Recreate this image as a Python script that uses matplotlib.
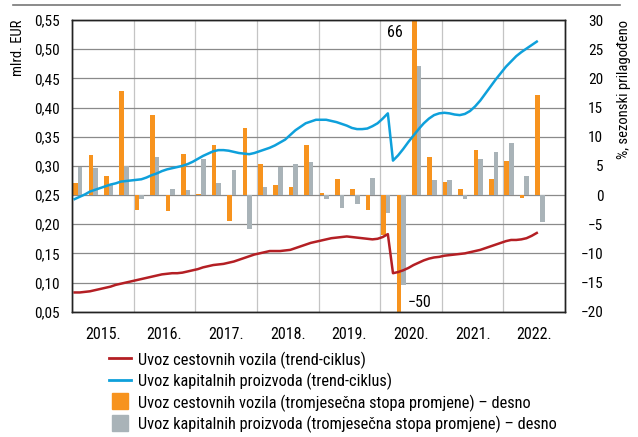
import matplotlib.pyplot as plt
from matplotlib.lines import Line2D
from matplotlib.ticker import FuncFormatter, MultipleLocator

plt.rcParams['font.family'] = ['Roboto Condensed', 'DejaVu Sans']
plt.rcParams['font.size'] = 10.5

# monthly trend-cycle series, Jan 2015 - Jul 2022 (mlrd. EUR)
vozila_trend = [
    0.083, 0.083, 0.084, 0.085, 0.087, 0.089, 0.091, 0.093, 0.096, 0.098, 0.100, 0.102,
    0.104, 0.106, 0.108, 0.110, 0.112, 0.114, 0.115, 0.116, 0.116, 0.117, 0.119, 0.121,
    0.123, 0.126, 0.128, 0.130, 0.131, 0.132, 0.134, 0.136, 0.139, 0.142, 0.145, 0.148,
    0.150, 0.152, 0.154, 0.154, 0.154, 0.155, 0.156, 0.159, 0.162, 0.165, 0.168, 0.170,
    0.172, 0.174, 0.176, 0.177, 0.178, 0.179, 0.178, 0.177, 0.176, 0.175, 0.174, 0.175,
    0.178, 0.183, 0.116, 0.118, 0.121, 0.125, 0.130, 0.134, 0.138, 0.141, 0.143, 0.144,
    0.146, 0.147, 0.148, 0.149, 0.150, 0.152, 0.154, 0.156, 0.159, 0.162, 0.165, 0.168,
    0.171, 0.173, 0.173, 0.174, 0.176, 0.180, 0.185,
]
kapital_trend = [
    0.243, 0.247, 0.251, 0.256, 0.259, 0.262, 0.265, 0.268, 0.270, 0.273, 0.274, 0.275,
    0.276, 0.277, 0.280, 0.284, 0.287, 0.291, 0.294, 0.296, 0.298, 0.300, 0.303, 0.307,
    0.312, 0.317, 0.321, 0.325, 0.327, 0.327, 0.326, 0.324, 0.322, 0.321, 0.320, 0.322,
    0.325, 0.328, 0.331, 0.335, 0.340, 0.345, 0.353, 0.361, 0.367, 0.373, 0.376, 0.379,
    0.379, 0.379, 0.377, 0.375, 0.372, 0.369, 0.365, 0.363, 0.363, 0.364, 0.368, 0.373,
    0.381, 0.390, 0.309, 0.318, 0.329, 0.341, 0.352, 0.363, 0.373, 0.381, 0.387, 0.390,
    0.391, 0.390, 0.388, 0.387, 0.389, 0.394, 0.402, 0.412, 0.424, 0.436, 0.448, 0.459,
    0.470, 0.479, 0.488, 0.495, 0.501, 0.507, 0.513,
]

# quarterly rates of change, 2015 Q1 - 2022 Q3 (%)
vozila_q = [2.0, 6.9, 3.2, 17.9, -2.6, 13.7, -2.7, 7.1, 0.1, 8.5, -4.4, 11.5,
            5.4, 1.7, 1.3, 8.6, 0.4, 2.8, 1.0, -2.6, -6.9, -50, 66, 6.5,
            2.3, 1.1, 7.7, 2.8, 5.9, -0.5, 17.1]
kapital_q = [4.8, 4.6, 1.7, 5.0, -0.7, 6.6, 1.1, 0.8, 6.1, 2.0, 4.3, -5.9,
             1.3, 4.8, 5.3, 5.6, -0.7, -2.2, -1.6, 2.9, -3.1, -15.5, 22.2, 2.6,
             2.5, -0.7, 6.1, 7.3, 8.9, 3.3, -4.7]

years = list(range(2015, 2023))
year_labels = [str(y) + '.' for y in years]

labels = [
    'Uvoz cestovnih vozila (trend-ciklus)',
    'Uvoz kapitalnih proizvoda (trend-ciklus)',
    'Uvoz cestovnih vozila (tromjesečna stopa promjene) – desno',
    'Uvoz kapitalnih proizvoda (tromjesečna stopa promjene) – desno',
]

RED = '#b41f24'
BLUE = '#0ea0db'
ORANGE = '#f7931e'
GREY = '#a9b3b8'

fig = plt.figure(figsize=(6.38, 4.37), dpi=100)
ax2 = fig.add_axes([0.1129, 0.2867, 0.7727, 0.6675])
ax = ax2.twinx()
ax2.yaxis.tick_right()
ax2.yaxis.set_label_position('right')
ax.yaxis.tick_left()
ax.yaxis.set_label_position('left')
ax.set_zorder(ax2.get_zorder() + 1)
ax.patch.set_visible(False)

# bars, right scale
qx = [2015 + 0.25 * i for i in range(len(vozila_q))]
ax2.bar([x + 0.055 for x in qx], vozila_q, width=0.075, color=ORANGE, zorder=2)
ax2.bar([x + 0.13 for x in qx], kapital_q, width=0.075, color=GREY, zorder=2)
ax2.set_ylim(-20, 30)
ax2.yaxis.set_major_locator(MultipleLocator(5))
ax2.set_xlim(2015, 2023)
ax2.grid(axis='y', color='#8a8a8a', lw=0.9, zorder=0)
ax2.grid(axis='x', color='#c4c4c4', lw=0.9, zorder=0)
ax2.set_axisbelow(True)
ax2.set_ylabel('%, sezonski prilagođeno', rotation=90)
ax2.yaxis.set_label_coords(1.105, 1.0)
ax2.yaxis.label.set_va('top')
ax2.yaxis.label.set_ha('right')

i66 = vozila_q.index(66)
i50 = vozila_q.index(-50)
ax2.text(qx[i66] + 0.055 - 0.32, 27.9, '66', ha='center', va='center', fontsize=11.5)
ax2.text(qx[i50] + 0.055 + 0.33, -18.4, '−50', ha='center', va='center', fontsize=11.5)

# lines, left scale
mx = [2015 + (m + 0.5) / 12 for m in range(len(vozila_trend))]
ax.plot(mx, vozila_trend, color=RED, lw=1.8)
ax.plot(mx, kapital_trend, color=BLUE, lw=1.8)
ax.set_ylim(0.05, 0.55)
ax.yaxis.set_major_locator(MultipleLocator(0.05))
ax.yaxis.set_major_formatter(FuncFormatter(lambda v, p: f'{v:.2f}'.replace('.', ',')))
ax.set_xlim(2015, 2023)
ax.set_ylabel('mlrd. EUR')
ax.yaxis.set_label_coords(-0.095, 1.0)
ax.yaxis.label.set_va('bottom')
ax.yaxis.label.set_ha('right')

# year labels in the middle of each year
ax2.set_xticks(years + [2023])
ax2.set_xticklabels([])
ax2.set_xticks([y + 0.5 for y in years], minor=True)
ax2.set_xticklabels(year_labels, minor=True, fontsize=11.5)
ax2.tick_params(axis='x', which='both', length=0, pad=11)
ax2.tick_params(axis='y', length=0, pad=8, labelsize=11)
ax.tick_params(axis='y', length=0, pad=9, labelsize=11)
for t in ax2.get_yticklabels():
    t.set_ha('right')
    t.set_x(1.055)

for a in (ax, ax2):
    for s in a.spines.values():
        s.set_color('#222222')
        s.set_linewidth(1.0)

fig.add_artist(Line2D([0.02, 0.972], [0.988, 0.988], color='#777777', lw=1.2))

handles = [
    Line2D([], [], color=RED, lw=2),
    Line2D([], [], color=BLUE, lw=2),
    Line2D([], [], color=ORANGE, marker='s', linestyle='none', markersize=11.5),
    Line2D([], [], color=GREY, marker='s', linestyle='none', markersize=11.5),
]
fig.legend(handles, labels, loc='upper left', bbox_to_anchor=(0.158, 0.214),
           frameon=False, borderpad=0, handlelength=1.35, handleheight=1.1,
           handletextpad=0.4, labelspacing=0.25, fontsize=11.8)

fig.savefig('out.png', dpi=100)
